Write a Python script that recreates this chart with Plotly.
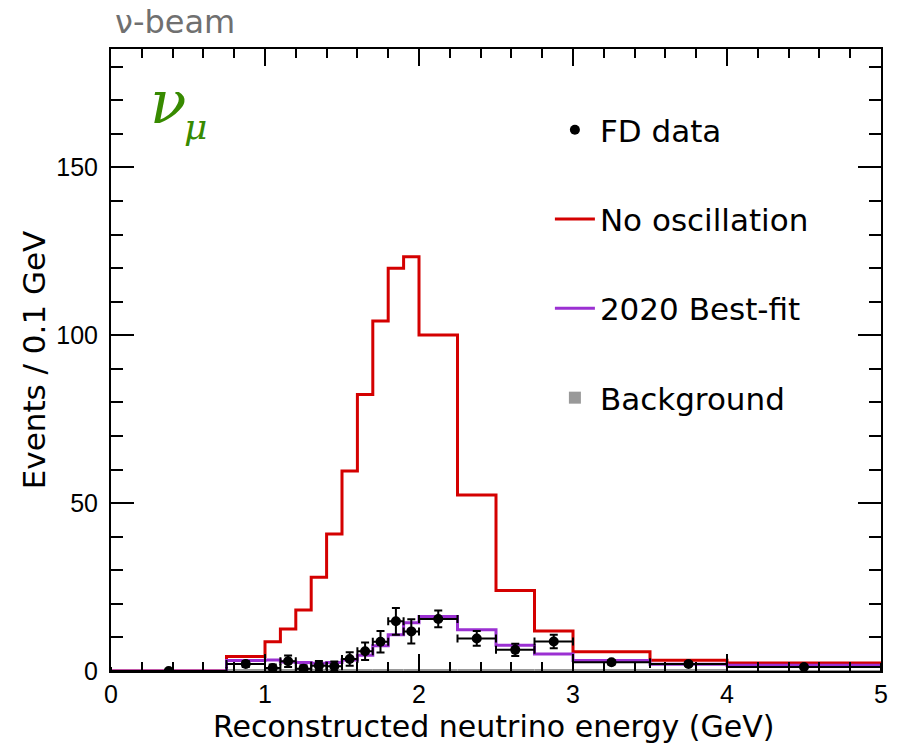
import plotly.graph_objects as go

# ---- data ----
bin_edges = [0.0, 0.75, 1.0, 1.1, 1.2, 1.3, 1.4, 1.5, 1.6, 1.7, 1.8, 1.9, 2.0,
             2.25, 2.5, 2.75, 3.0, 3.5, 4.0, 5.0]
no_oscillation = [0.0, 4.3, 8.7, 12.5, 18.2, 27.9, 40.8, 59.6, 82.4, 104.3,
                  120.0, 123.4, 100.1, 52.4, 24.0, 11.9, 5.7, 3.2, 2.4]
best_fit_2020 = [0.0, 3.1, 3.3, 2.7, 2.5, 2.3, 2.5, 3.3, 4.7, 7.5,
                 10.8, 14.4, 16.2, 12.3, 7.7, 5.1, 3.1, 2.0, 1.7]
background = [0.0, 0.3, 0.3, 0.3, 0.3, 0.3, 0.4, 0.4, 0.4, 0.5,
              0.5, 0.5, 0.5, 0.5, 0.4, 0.4, 0.3, 0.3, 0.2]
fd_data = [0.0, 2.1, 0.9, 2.9, 0.7, 1.6, 1.4, 3.6, 5.9, 8.7,
           14.8, 11.8, 15.5, 9.7, 6.3, 8.8, 2.6, 2.1, 1.2]
fd_err = [0.0, 0.9, 1.0, 1.7, 1.0, 1.4, 1.4, 2.0, 2.6, 3.2,
          4.0, 3.6, 2.5, 2.2, 1.8, 2.0, 0.7, 0.6, 0.35]

x_ticks = [0, 1, 2, 3, 4, 5]
y_ticks = [0, 50, 100, 150]

centers = [(a + b) / 2 for a, b in zip(bin_edges[:-1], bin_edges[1:])]
widths = [(b - a) for a, b in zip(bin_edges[:-1], bin_edges[1:])]
half_widths = [w / 2 for w in widths]

RED = "#d40000"
PURPLE = "#9b30d2"
GREEN = "#378a00"

fig = go.Figure()

fig.add_trace(go.Bar(
    x=centers, y=background, width=widths,
    marker=dict(color="#999999", line=dict(width=0)),
    name="Background", legendgroup="d", legendrank=4,
))
fig.add_trace(go.Scatter(
    x=bin_edges, y=no_oscillation + [no_oscillation[-1]],
    mode="lines", line=dict(color=RED, width=3, shape="hv"),
    name="No oscillation", legendgroup="b", legendrank=2,
))
fig.add_trace(go.Scatter(
    x=bin_edges, y=best_fit_2020 + [best_fit_2020[-1]],
    mode="lines", line=dict(color=PURPLE, width=3, shape="hv"),
    name="2020 Best-fit", legendgroup="c", legendrank=3,
))
fig.add_trace(go.Scatter(
    x=centers, y=fd_data, mode="markers",
    marker=dict(color="black", size=10),
    error_x=dict(type="data", array=half_widths, color="black", thickness=2, width=4),
    error_y=dict(type="data", array=fd_err, color="black", thickness=2, width=4),
    name="FD data", legendgroup="a", legendrank=1,
))

tickfont = dict(family="Liberation Sans, Arial, sans-serif", size=25, color="black")
titlefont = dict(family="DejaVu Sans, sans-serif", size=31, color="black")

fig.update_layout(
    width=902, height=747,
    margin=dict(l=111, r=21, t=49, b=76),
    plot_bgcolor="white", paper_bgcolor="white",
    barmode="overlay",
    showlegend=True,
    legend=dict(
        x=0.570, y=0.913, xanchor="left", yanchor="top",
        font=dict(family="DejaVu Sans, sans-serif", size=31, color="black"),
        bgcolor="rgba(0,0,0,0)", borderwidth=0,
        itemwidth=40, tracegroupgap=46, traceorder="grouped",
    ),
    xaxis=dict(
        range=[0, 5], tickmode="array", tickvals=x_ticks,
        ticks="inside", ticklen=17, tickwidth=1.5, tickcolor="black",
        minor=dict(dtick=0.2, tick0=0, ticks="inside", ticklen=9,
                   tickwidth=1.5, tickcolor="black"),
        showline=True, linecolor="black", linewidth=2, mirror="allticks",
        showgrid=False, zeroline=False,
        tickfont=tickfont, ticklabelstandoff=0,
    ),
    yaxis=dict(
        range=[0, 185.3], tickmode="array", tickvals=y_ticks,
        ticks="inside", ticklen=23, tickwidth=1.5, tickcolor="black",
        minor=dict(dtick=10, tick0=0, ticks="inside", ticklen=12,
                   tickwidth=1.5, tickcolor="black"),
        showline=True, linecolor="black", linewidth=2, mirror="allticks",
        showgrid=False, zeroline=False,
        tickfont=tickfont, ticklabelstandoff=6,
        title=dict(text="Events / 0.1 GeV", font=titlefont, standoff=1),
    ),
    annotations=[
        dict(text="Reconstructed neutrino energy (GeV)", x=0.497, y=-0.089,
             xref="paper", yref="paper", xanchor="center", yanchor="middle",
             showarrow=False,
             font=dict(family="DejaVu Sans, sans-serif", size=30, color="black")),
        dict(text="ν-beam", x=0.003, y=1.043, xref="paper", yref="paper",
             xanchor="left", yanchor="middle", showarrow=False,
             font=dict(family="DejaVu Sans, sans-serif", size=32, color="#707070")),
        dict(text="<i>ν</i>", x=0.074, y=0.915, xref="paper", yref="paper",
             xanchor="center", yanchor="middle", showarrow=False,
             font=dict(family="DejaVu Serif, serif", size=60, color=GREEN)),
        dict(text="<i>μ</i>", x=0.110, y=0.876, xref="paper", yref="paper",
             xanchor="center", yanchor="middle", showarrow=False,
             font=dict(family="DejaVu Serif, serif", size=36, color=GREEN)),
    ],
)

fig.write_html("out.html")
